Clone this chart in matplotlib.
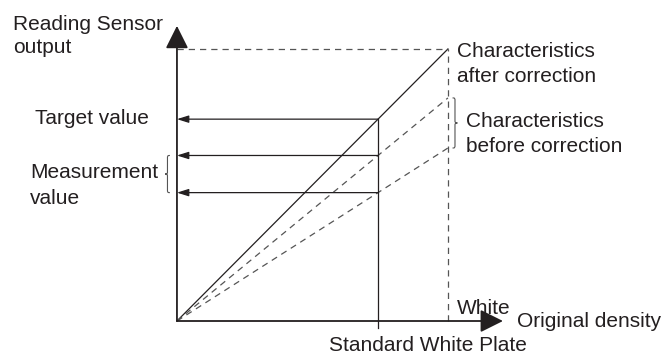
import matplotlib
matplotlib.use("Agg")
import matplotlib.pyplot as plt
import numpy as np
from matplotlib.path import Path
from matplotlib.patches import PathPatch

# sensor characteristic slopes (output at white = slope)
slope_after = 1.0
slopes_before = [0.82, 0.636]
plate_x = 0.742   # standard white plate density
white_x = 1.0     # white density

ink = "#231f20"
grey = "#555555"
fs = 15

plt.rcParams["font.family"] = ["Liberation Sans", "DejaVu Sans"]

fig = plt.figure(figsize=(6.65, 3.54), dpi=100)
ax = fig.add_axes([0, 0, 1, 1])
ax.set_xlim(-0.653, 1.801)
ax.set_ylim(-0.1213, 1.180)
ax.axis("off")


def brace(ax, x_back, y1, y2, w, d):
    """Vertical curly brace; d=-1 points left, d=+1 points right."""
    h = w / 2
    ym = (y1 + y2) / 2
    r = w * 0.8
    xm = x_back + d * h
    verts = [
        (x_back, y2),
        (xm, y2), (xm, y2), (xm, y2 - r),
        (xm, ym + r),
        (xm, ym), (xm, ym), (x_back + d * w, ym),
        (xm, ym), (xm, ym), (xm, ym - r),
        (xm, y1 + r),
        (xm, y1), (xm, y1), (x_back, y1),
    ]
    codes = [Path.MOVETO,
             Path.CURVE4, Path.CURVE4, Path.CURVE4,
             Path.LINETO,
             Path.CURVE4, Path.CURVE4, Path.CURVE4,
             Path.CURVE4, Path.CURVE4, Path.CURVE4,
             Path.LINETO,
             Path.CURVE4, Path.CURVE4, Path.CURVE4]
    ax.add_patch(PathPatch(Path(verts, codes), fill=False, lw=0.8, ec=grey))


# axes with big arrow heads
big = dict(arrowstyle="-|>,head_length=0.7,head_width=0.35", color=ink, lw=1.3,
           shrinkA=0, shrinkB=0, mutation_scale=20)
ax.annotate("", xy=(0, 1.085), xytext=(0, 0), arrowprops=big)
ax.annotate("", xy=(1.203, 0), xytext=(0, 0), arrowprops=big)

# characteristic lines
ax.plot([0, white_x], [0, slope_after * white_x], color=ink, lw=0.9)
for s in slopes_before:
    ax.plot([0, white_x], [0, s * white_x], color=grey, lw=0.9, ls=(0, (5, 4)))

# white limit (dashed box)
ax.plot([white_x, white_x], [0, slope_after * white_x], color=grey, lw=0.9, ls=(0, (5, 4)))
ax.plot([0, white_x], [slope_after * white_x] * 2, color=grey, lw=0.9, ls=(0, (5, 4)))

# standard white plate line
ax.plot([plate_x, plate_x], [-0.026, slope_after * plate_x], color=ink, lw=0.9)

# read-out arrows to the y axis
small = dict(arrowstyle="-|>,head_length=0.7,head_width=0.22", color=ink, lw=0.9,
             shrinkA=0, shrinkB=0, mutation_scale=10)
for s in [slope_after] + slopes_before:
    ax.annotate("", xy=(0, s * plate_x), xytext=(plate_x, s * plate_x), arrowprops=small)

# braces
brace(ax, -0.026, slopes_before[1] * plate_x, slopes_before[0] * plate_x, 0.018, -1)
brace(ax, 1.017, slopes_before[1] * white_x, slopes_before[0] * white_x, 0.018, 1)

# labels
kw = dict(fontsize=fs, color=ink, va="baseline")
ax.text(-0.605, 1.070, "Reading Sensor", **kw)
ax.text(-0.605, 0.985, "output", **kw)
ax.text(-0.524, 0.724, "Target value", **kw)
ax.text(-0.542, 0.526, "Measurement", **kw)
ax.text(-0.542, 0.430, "value", **kw)
ax.text(1.033, 0.972, "Characteristics", **kw)
ax.text(1.033, 0.880, "after correction", **kw)
ax.text(1.066, 0.713, "Characteristics", **kw)
ax.text(1.066, 0.621, "before correction", **kw)
ax.text(1.033, 0.026, "White", **kw)
ax.text(1.255, -0.022, "Original density", **kw)
ax.text(0.926, -0.110, "Standard White Plate", ha="center", **kw)

fig.savefig("out.png", dpi=100)
